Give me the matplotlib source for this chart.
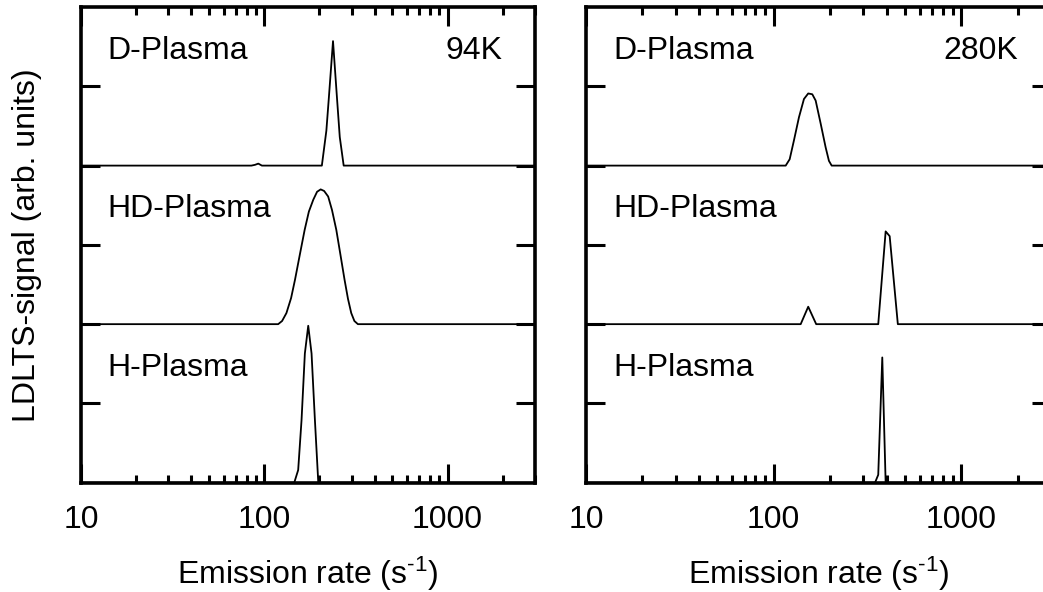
import matplotlib
matplotlib.use("Agg")
from matplotlib import pyplot as plt
from matplotlib.ticker import LogLocator, NullFormatter, FixedLocator

plt.rcParams['font.family'] = ['Liberation Sans', 'DejaVu Sans']
plt.rcParams['mathtext.fontset'] = 'custom'
plt.rcParams['mathtext.rm'] = 'Liberation Sans'
plt.rcParams['mathtext.it'] = 'Liberation Sans'
plt.rcParams['axes.unicode_minus'] = False

# LDLTS spectra, emission rate (1/s) vs signal above each baseline
labels = ["D-Plasma", "HD-Plasma", "H-Plasma"]
offsets = [4, 2, 0]
temps = ["94K", "280K"]

# 94 K
d94_x = [10, 85, 89, 92.7, 97, 206, 218, 225, 237, 249, 258, 271, 3000]
d94_y = [0, 0, 0.01, 0.025, 0, 0, 0.44, 0.86, 1.57, 0.86, 0.36, 0, 0]
hd94_x = [10, 119, 125, 132, 140, 147, 156, 166, 175, 185, 194, 203, 212,
          223, 234, 247, 260, 274, 286, 298, 310, 324, 3000]
hd94_y = [0, 0, 0.04, 0.14, 0.33, 0.56, 0.87, 1.19, 1.42, 1.57, 1.67, 1.70,
          1.68, 1.61, 1.44, 1.19, 0.88, 0.56, 0.32, 0.14, 0.04, 0, 0]
h94_x = [10, 145.6, 153, 159.6, 166.4, 173.6, 181, 188.8, 197, 3000]
h94_y = [0, 0, 0.16, 0.79, 1.63, 1.98, 1.63, 0.79, 0, 0]

# 280 K
d280_x = [10, 115.9, 121.7, 128.3, 136.4, 145, 152.8, 160.6, 167.4, 178,
          189.2, 197, 203.7, 3000]
d280_y = [0, 0, 0.08, 0.32, 0.61, 0.84, 0.91, 0.90, 0.82, 0.53, 0.23, 0.06,
          0, 0]
hd280_x = [10, 139.3, 152.8, 168.5, 360.7, 395, 415, 458.7, 3000]
hd280_y = [0, 0, 0.22, 0, 0, 1.17, 1.11, 0, 0]
h280_x = [10, 346.6, 360.7, 379, 395, 3000]
h280_y = [0, 0, 0.10, 1.58, 0, 0]

panels = [
    [(d94_x, d94_y), (hd94_x, hd94_y), (h94_x, h94_y)],
    [(d280_x, d280_y), (hd280_x, hd280_y), (h280_x, h280_y)],
]

fs = 23
fig = plt.figure(figsize=(10.43, 5.92), dpi=100)
ax1 = fig.add_axes([0.0777, 0.1846, 0.4353, 0.8035])
ax2 = fig.add_axes([0.5618, 0.1846, 0.4458, 0.8035])

for ax, spectra, temp in zip([ax1, ax2], panels, temps):
    for (x, y), off, name in zip(spectra, offsets, labels):
        ax.plot(x, [v + off for v in y], color='black', lw=1.3)
        ax.text(14.0, off + 1.35, name, fontsize=fs, va='baseline', ha='left')
    ax.text(2000, 5.35, temp, fontsize=fs, va='baseline', ha='right')

    ax.set_xscale('log')
    ax.set_xlim(10, 3000)
    ax.set_ylim(0, 6)
    ax.xaxis.set_major_locator(FixedLocator([10, 100, 1000]))
    ax.xaxis.set_minor_locator(LogLocator(base=10, subs=range(2, 10), numticks=20))
    ax.xaxis.set_minor_formatter(NullFormatter())
    ax.set_xticks([10, 100, 1000])
    ax.set_xticklabels(["10", "100", "1000"], fontsize=fs)
    ax.set_yticks([1, 2, 3, 4, 5])
    ax.set_yticklabels([])
    ax.tick_params(which='major', direction='in', length=14, width=2.2,
                   top=True, right=True, pad=16)
    ax.tick_params(which='minor', direction='in', length=6, width=2.2,
                   top=True, right=True)
    for s in ax.spines.values():
        s.set_linewidth(2.6)
    ax.set_xlabel(r"Emission rate (s$^{\text{-1}}$)", fontsize=fs, labelpad=14)

ax1.set_ylabel("LDLTS-signal (arb. units)", fontsize=fs, labelpad=12)

fig.savefig("out.png", dpi=100)
